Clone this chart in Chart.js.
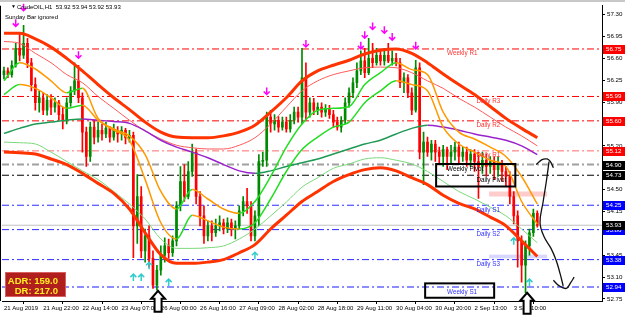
<!DOCTYPE html>
<html>
<head>
<meta charset="utf-8">
<script src="https://cdn.jsdelivr.net/npm/chart.js@4.4.1/dist/chart.umd.min.js"></script>
<style>
  html, body { margin: 0; padding: 0; background: #fff; }
</style>
</head>
<body>
<canvas id="chart" width="625" height="315"></canvas>
<script>
// ---- data ----

const tickBars = [0, 10, 20, 30, 40, 50, 60, 70, 80, 90, 100, 110, 120, 130];
const tickLabels = ['21 Aug 2019', '21 Aug 22:00', '22 Aug 14:00', '23 Aug 07:00', '26 Aug 00:00',
    '26 Aug 16:00', '27 Aug 09:00', '28 Aug 02:00', '28 Aug 18:00', '29 Aug 11:00',
    '30 Aug 04:00', '30 Aug 20:00', '2 Sep 13:00', '3 Sep 10:00'];
const priceTicks = [52.75, 53.10, 53.45, 53.80, 54.15, 54.50, 54.85, 55.20, 55.55, 55.90,
    56.25, 56.60, 56.95, 57.30];

// candles (open of each bar = close of the bar before)
const firstOpen = 56.34;
const closes = [
    56.40, 56.34, 56.49, 56.76, 56.65, 56.84, 56.53, 56.18, 55.89, 55.97,
    55.77, 55.93, 55.82, 55.89, 55.70, 55.61, 55.89, 56.08, 56.24, 55.97,
    55.42, 55.03, 55.50, 55.34, 55.45, 55.39, 55.48, 55.34, 55.45, 55.39,
    55.45, 55.33, 55.37, 53.92, 54.39, 53.52, 53.76, 53.40, 52.97, 53.21,
    53.45, 53.60, 53.49, 53.68, 54.24, 54.63, 54.39, 54.79, 55.10, 54.39,
    54.08, 53.76, 53.92, 53.81, 53.92, 53.97, 53.87, 53.97, 53.87, 53.92,
    54.16, 54.31, 54.24, 53.76, 54.08, 54.95, 54.97, 55.66, 55.55, 55.61,
    55.50, 55.58, 55.47, 55.61, 55.74, 55.66, 56.29, 55.74, 55.89, 55.77,
    55.82, 55.74, 55.80, 55.70, 55.58, 55.50, 55.61, 55.89, 56.05, 56.21,
    56.40, 56.56, 56.37, 56.60, 56.53, 56.65, 56.56, 56.65, 56.56, 56.60,
    56.53, 56.21, 56.29, 56.05, 55.77, 56.45, 55.10, 55.26, 55.10, 55.23,
    55.10, 55.03, 55.14, 55.03, 55.10, 55.18, 55.03, 55.10, 54.97, 55.07,
    54.95, 54.87, 54.97, 54.87, 54.95, 54.82, 54.91, 54.79, 54.71, 54.39,
    54.08, 53.68, 53.29, 53.60, 53.81, 54.12, 53.93
];
const highs = [
    56.46, 56.45, 56.56, 56.84, 57.00, 57.13, 56.92, 56.60, 56.29, 56.08,
    56.05, 56.02, 56.02, 55.97, 55.93, 55.82, 55.97, 56.15, 56.53, 56.49,
    56.05, 55.50, 55.58, 55.61, 55.58, 55.55, 55.58, 55.51, 55.55, 55.51,
    55.51, 55.48, 55.45, 55.42, 54.74, 54.55, 53.87, 53.92, 53.52, 53.29,
    53.60, 53.73, 53.71, 53.76, 54.31, 54.87, 54.90, 54.95, 55.23, 55.15,
    54.47, 54.24, 54.00, 54.00, 54.03, 54.08, 54.03, 54.05, 54.03, 54.00,
    54.24, 54.39, 54.52, 54.31, 54.16, 55.06, 55.10, 55.74, 55.77, 55.70,
    55.67, 55.66, 55.66, 55.70, 55.82, 55.82, 56.76, 56.53, 55.97, 55.96,
    55.89, 55.89, 55.86, 55.85, 55.77, 55.66, 55.67, 55.97, 56.13, 56.29,
    56.53, 56.72, 56.76, 56.92, 56.84, 56.76, 56.72, 56.76, 56.84, 56.72,
    56.68, 56.60, 56.37, 56.34, 56.13, 56.57, 56.53, 55.42, 55.34, 55.29,
    55.29, 55.18, 55.21, 55.18, 55.21, 55.26, 55.26, 55.18, 55.18, 55.14,
    55.14, 55.10, 55.10, 55.07, 55.03, 55.03, 55.03, 54.97, 54.87, 54.79,
    54.47, 54.16, 53.76, 53.68, 53.87, 54.19, 54.16
];
const lows = [
    56.27, 56.29, 56.30, 56.46, 56.56, 56.60, 56.45, 56.08, 55.77, 55.74,
    55.70, 55.69, 55.70, 55.74, 55.61, 55.47, 55.55, 55.83, 56.02, 55.89,
    55.10, 54.87, 54.95, 55.23, 55.26, 55.29, 55.33, 55.26, 55.29, 55.26,
    55.29, 55.23, 55.26, 53.41, 53.64, 53.41, 53.34, 53.26, 52.92, 52.89,
    53.13, 53.34, 53.40, 53.43, 53.60, 54.16, 54.31, 54.35, 54.71, 54.27,
    53.92, 53.64, 53.68, 53.68, 53.75, 53.84, 53.79, 53.81, 53.76, 53.71,
    53.87, 54.08, 54.12, 53.68, 53.68, 53.92, 54.87, 54.87, 55.42, 55.45,
    55.42, 55.45, 55.42, 55.42, 55.55, 55.58, 55.55, 55.61, 55.66, 55.70,
    55.70, 55.66, 55.67, 55.64, 55.50, 55.45, 55.42, 55.55, 55.82, 55.97,
    56.13, 56.34, 56.29, 56.34, 56.45, 56.49, 56.49, 56.49, 56.53, 56.49,
    56.48, 56.13, 56.05, 55.97, 55.70, 55.74, 54.99, 54.58, 55.03, 54.97,
    54.95, 54.91, 54.87, 54.82, 54.91, 54.97, 54.91, 54.95, 54.87, 54.87,
    54.79, 54.36, 54.76, 54.71, 54.76, 54.66, 54.71, 54.63, 54.55, 54.27,
    53.95, 53.26, 53.02, 52.85, 53.45, 53.75, 53.90
];

// indicator lines, sampled every 4 bars
const lineBars = [0, 4, 8, 12, 16, 20, 24, 28, 32, 36, 40, 44, 48, 52, 56, 60, 64, 68,
    72, 76, 80, 84, 88, 92, 96, 100, 104, 108, 112, 116, 120, 124, 128, 132, 136];
const upperBand = [57.00, 57.00, 56.91, 56.78, 56.60, 56.40, 56.18, 55.97, 55.78, 55.58,
    55.42, 55.34, 55.33, 55.33, 55.36, 55.42, 55.53, 55.74, 55.97, 56.24, 56.40, 56.49,
    56.57, 56.67, 56.73, 56.75, 56.68, 56.53, 56.35, 56.18, 56.02, 55.83, 55.64, 55.48, 55.33];
const upperInner = [56.87, 56.84, 56.68, 56.53, 56.34, 56.21, 55.99, 55.80, 55.61, 55.44,
    55.31, 55.21, 55.17, 55.15, 55.15, 55.21, 55.33, 55.55, 55.82, 56.08, 56.24, 56.34,
    56.40, 56.45, 56.46, 56.45, 56.37, 56.24, 56.12, 55.96, 55.82, 55.66, 55.50, 55.36, 55.20];
const lowerBand = [55.10, 55.09, 55.07, 54.99, 54.90, 54.76, 54.60, 54.44, 54.19, 53.81,
    53.46, 53.32, 53.32, 53.34, 53.38, 53.49, 53.62, 53.87, 54.09, 54.31, 54.47, 54.63,
    54.74, 54.82, 54.85, 54.80, 54.69, 54.58, 54.41, 54.28, 54.19, 54.06, 53.92, 53.68, 53.43];
const lowerInner = [55.26, 55.25, 55.23, 55.10, 54.95, 54.80, 54.66, 54.47, 54.27, 54.03,
    53.71, 53.56, 53.56, 53.57, 53.60, 53.71, 53.87, 54.08, 54.30, 54.54, 54.69, 54.84,
    54.91, 54.99, 55.01, 54.97, 54.91, 54.79, 54.63, 54.47, 54.35, 54.22, 54.08, 53.87, 53.65];
const slowMA = [55.40, 55.48, 55.55, 55.58, 55.61, 55.63, 55.61, 55.59, 55.56, 55.44,
    55.29, 55.18, 55.10, 55.01, 54.90, 54.80, 54.76, 54.80, 54.87, 54.93, 54.99, 55.07,
    55.15, 55.23, 55.29, 55.39, 55.48, 55.53, 55.50, 55.45, 55.39, 55.34, 55.29, 55.20, 55.06];
const fastMA1 = [56.24, 56.53, 56.43, 56.24, 56.05, 56.12, 55.64, 55.47, 55.36, 55.06,
    54.47, 54.19, 54.50, 54.35, 54.19, 54.12, 54.31, 54.71, 55.18, 55.55, 55.77, 55.80,
    55.83, 56.18, 56.37, 56.53, 56.42, 56.34, 55.74, 55.42, 55.31, 55.18, 55.03, 54.71, 54.27];
const fastMA2 = [56.02, 56.18, 56.12, 55.97, 55.80, 55.85, 55.61, 55.45, 55.29, 54.66,
    53.97, 53.71, 54.09, 54.00, 53.90, 53.87, 53.97, 54.35, 54.79, 55.14, 55.34, 55.50,
    55.58, 55.89, 56.08, 56.24, 56.18, 56.08, 55.50, 55.23, 55.10, 54.97, 54.87, 54.31, 53.95];

// pivot levels
const levelNames = ['Weekly R1', 'Daily R3', 'Daily R2', 'Daily R1', 'Weekly Pivot',
    'Daily Pivot', 'Daily S1', 'Daily S2', 'Daily S3', 'Weekly S1'];
const levelValues = [56.75, 55.99, 55.60, 55.12, 54.90, 54.73, 54.25, 53.86, 53.38, 52.94];
const bidPrice = 53.93;

// fractals
const fractalDownBars = [3, 5, 19, 67, 77, 91, 92, 94, 97, 99, 105];
const fractalDownPrices = [57.16, 57.41, 56.65, 56.07, 56.83, 56.80, 56.97, 57.11, 57.05, 56.94, 56.80];
const fractalUpBars = [33, 35, 37, 42, 64, 130, 134];
const fractalUpPrices = [53.10, 53.10, 53.29, 53.02, 53.45, 53.68, 53.02];

// hand drawn marks on the picture (bar, price)
const sketchHookBars = [135.7, 137.2, 138.5, 139.3, 140.1];
const sketchHookPrices = [54.90, 54.98, 54.99, 54.95, 54.85];
const sketchDownBars = [139.0, 138.3, 137.5, 136.7, 137.7, 139.5, 140.8, 141.8, 142.6];
const sketchDownPrices = [54.95, 54.63, 54.31, 53.97, 53.75, 53.56, 53.37, 53.16, 52.96];
const sketchTickBars = [140.1, 141.6, 143.4, 144.6, 145.4];
const sketchTickPrices = [53.05, 52.96, 52.92, 53.02, 53.10];
const hollowArrowBars = [39.3, 133.4];
const hollowArrowPrices = [52.88, 52.85];

const adrValue = '159.0';
const drValue = '217.0';

// ---- styles ----
const FONT = '"Liberation Sans", Arial, sans-serif';
const BULL = '#008a00';
const BEAR = '#ff0000';
const RISE = '#22dd22';
const FALL = '#ff9900';
const levelLine = [
    {c: '#ff0000', w: 1, t: '#ff3333', b: '#ff0000'},
    {c: '#ff0000', w: 1, t: '#ff3333', b: '#ff0000'},
    {c: '#ff0000', w: 1, t: '#ff3333', b: '#ff0000'},
    {c: '#ff6a6a', w: 1, t: '#ff3333', b: '#ff0000'},
    {c: '#a0a0a0', w: 2, t: '#000000', b: '#000000'},
    {c: '#000000', w: 1, t: '#000000', b: '#000000'},
    {c: '#2a2aff', w: 1, t: '#3333ff', b: '#0000ff'},
    {c: '#2a2aff', w: 1, t: '#3333ff', b: '#0000ff'},
    {c: '#2a2aff', w: 1, t: '#3333ff', b: '#0000ff'},
    {c: '#8c8cff', w: 2, t: '#3333ff', b: '#0000ff'}
];
const labelBar = {weekly: 113, daily: 120.5};

const opens = closes.map((c, i) => i ? closes[i - 1] : firstOpen);
const isUp = i => closes[i] >= opens[i];

function pts(xs, ys) {
    return xs.map((x, i) => ({x: x, y: ys[i]}));
}

function lineSet(values, color, width, order) {
    return {
        type: 'line', data: pts(lineBars, values), borderColor: color, borderWidth: width,
        pointRadius: 0, cubicInterpolationMode: 'monotone', order: order
    };
}

function trendSet(values, width) {
    let ds = lineSet(values, RISE, width, 2);
    ds.segment = {borderColor: s => s.p1.parsed.y >= s.p0.parsed.y ? RISE : FALL};
    return ds;
}

let datasets = [];

levelValues.forEach((v, i) => {
    datasets.push({
        type: 'line', data: [{x: -0.5, y: v}, {x: 152.5, y: v}],
        borderColor: levelLine[i].c, borderWidth: levelLine[i].w, borderDash: [7, 3, 2, 3],
        pointRadius: 0, order: 30
    });
});
datasets.push({
    type: 'line', data: [{x: -0.5, y: bidPrice}, {x: 152.5, y: bidPrice}],
    borderColor: '#c0c0c0', borderWidth: 1, pointRadius: 0, order: 29
});

datasets.push({
    type: 'bar', data: closes.map((c, i) => ({x: i, y: [lows[i], highs[i]]})),
    backgroundColor: ctx => isUp(ctx.dataIndex) ? BULL : BEAR,
    barThickness: 1, grouped: false, order: 12
});
datasets.push({
    type: 'bar', data: closes.map((c, i) => ({x: i, y: [opens[i], c]})),
    backgroundColor: ctx => isUp(ctx.dataIndex) ? BULL : BEAR,
    barThickness: 2, grouped: false, order: 11
});

datasets.push(lineSet(lowerInner, '#7ad87a', 1, 5));
datasets.push(lineSet(upperInner, '#ff5a5a', 1, 5));
let sma = lineSet(slowMA, '#1f9a55', 1.5, 4);
sma.segment = {borderColor: s => s.p1.parsed.y >= s.p0.parsed.y ? '#1f9a55' : '#9a22cc'};
datasets.push(sma);
datasets.push(trendSet(fastMA2, 1.5));
datasets.push(trendSet(fastMA1, 1.5));
datasets.push(lineSet(upperBand, '#ff3300', 3, 1));
datasets.push(lineSet(lowerBand, '#ff3300', 3, 1));

[[sketchHookBars, sketchHookPrices], [sketchDownBars, sketchDownPrices], [sketchTickBars, sketchTickPrices]]
    .forEach(p => {
        datasets.push({
            type: 'line', data: pts(p[0], p[1]), borderColor: '#111', borderWidth: 1.3,
            pointRadius: 0, tension: 0.4, order: 0, clip: false
        });
    });

function px(chart, bar) { return chart.scales.x.getPixelForValue(bar); }
function py(chart, price) { return chart.scales.y.getPixelForValue(price); }

function fractal(ctx, x, y, down, color) {
    ctx.strokeStyle = color;
    ctx.lineWidth = 1.5;
    ctx.beginPath();
    let d = down ? 1 : -1;
    ctx.moveTo(x, y - 4 * d);
    ctx.lineTo(x, y + 3 * d);
    ctx.moveTo(x - 3, y);
    ctx.lineTo(x, y + 3 * d);
    ctx.lineTo(x + 3, y);
    ctx.stroke();
}

function hollowArrow(ctx, x, yt) {
    ctx.beginPath();
    ctx.moveTo(x, yt);
    ctx.lineTo(x + 7, yt + 8);
    ctx.lineTo(x + 3.5, yt + 8);
    ctx.lineTo(x + 3.5, yt + 21);
    ctx.lineTo(x - 3.5, yt + 21);
    ctx.lineTo(x - 3.5, yt + 8);
    ctx.lineTo(x - 7, yt + 8);
    ctx.closePath();
    ctx.fillStyle = '#fff';
    ctx.fill();
    ctx.lineWidth = 2;
    ctx.strokeStyle = '#000';
    ctx.stroke();
}

function rect(chart, x0, x1, p0, p1) {
    let a = px(chart, x0), b = px(chart, x1), c = py(chart, p0), d = py(chart, p1);
    return [a, c, b - a, d - c];
}

const mt4Plugin = {
    id: 'mt4',
    beforeDatasetsDraw(chart) {
        const ctx = chart.ctx;
        ctx.save();
        ctx.fillStyle = 'rgba(255, 170, 170, 0.6)';
        ctx.fillRect(...rect(chart, 123.7, 138.5, 54.47, 54.39));
        ctx.fillStyle = 'rgba(190, 190, 255, 0.6)';
        ctx.fillRect(...rect(chart, 123.7, 138.5, 53.46, 53.40));
        ctx.restore();
    },
    afterDatasetsDraw(chart) {
        const ctx = chart.ctx;
        ctx.save();
        fractalDownBars.forEach((b, i) => fractal(ctx, px(chart, b), py(chart, fractalDownPrices[i]), true, '#ff00ff'));
        fractalUpBars.forEach((b, i) => fractal(ctx, px(chart, b), py(chart, fractalUpPrices[i]), false, '#33cccc'));

        // level captions just under each line
        ctx.font = '6.3px ' + FONT;
        ctx.textBaseline = 'top';
        ctx.textAlign = 'left';
        levelNames.forEach((n, i) => {
            let bar = n.indexOf('Weekly') === 0 ? labelBar.weekly : labelBar.daily;
            ctx.fillStyle = levelLine[i].t;
            ctx.fillText(n, px(chart, bar), py(chart, levelValues[i]) + 1.5);
        });

        ctx.lineWidth = 2;
        ctx.strokeStyle = '#000';
        ctx.strokeRect(...rect(chart, 110.2, 130.4, 54.91, 54.55));
        ctx.strokeRect(...rect(chart, 107.4, 125, 53.00, 52.77));
        ctx.restore();
    },
    afterDraw(chart) {
        const ctx = chart.ctx;
        const area = chart.chartArea;
        ctx.save();
        ctx.fillStyle = '#c8c8c8';
        ctx.fillRect(0, 0, 625, 2);
        ctx.fillStyle = '#000';
        ctx.fillRect(0, area.top, 1, area.bottom - area.top);

        // price boxes on the right scale
        ctx.font = '6.2px ' + FONT;
        ctx.textBaseline = 'middle';
        const boxes = levelValues.map((v, i) => [v, levelLine[i].b]).concat([[bidPrice, '#000000']]);
        boxes.forEach(b => {
            let y = Math.round(py(chart, b[0]));
            ctx.fillStyle = b[1];
            ctx.fillRect(area.right + 1, y - 4, 22, 9);
            ctx.fillStyle = '#fff';
            ctx.fillText(b[0].toFixed(2), area.right + 4, y + 0.5);
        });

        // header
        ctx.fillStyle = '#000';
        ctx.textBaseline = 'alphabetic';
        ctx.font = '5px ' + FONT;
        ctx.fillText('\u25BC', 11, 8);
        ctx.font = '6px ' + FONT;
        ctx.fillText('CrudeOIL,H1  53.92 53.94 53.92 53.93', 17, 9);
        ctx.fillText('Sunday Bar ignored', 5, 19);

        // ADR panel
        ctx.fillStyle = '#b01e1e';
        ctx.fillRect(5, 272, 61, 25);
        ctx.strokeStyle = '#d86060';
        ctx.lineWidth = 1;
        ctx.strokeRect(5.5, 272.5, 60, 24);
        ctx.fillStyle = '#ffee22';
        ctx.font = 'bold 9.5px "Liberation Sans", Arial, sans-serif';
        ctx.textAlign = 'right';
        ctx.fillText('ADR: ' + adrValue, 58, 284);
        ctx.fillText('DR: ' + drValue, 58, 294);

        hollowArrowBars.forEach((b, i) => hollowArrow(ctx, px(chart, b), py(chart, hollowArrowPrices[i])));
        ctx.restore();
    }
};

new Chart(document.getElementById('chart'), {
    type: 'bar',
    data: {datasets: datasets},
    options: {
        responsive: false,
        animation: false,
        events: [],
        layout: {padding: {left: 2, top: 2, right: 0, bottom: 0}},
        plugins: {legend: {display: false}, tooltip: {enabled: false}},
        scales: {
            x: {
                type: 'linear', min: -0.5, max: 152.5, offset: false,
                grid: {drawOnChartArea: false, tickLength: 3, color: '#000'},
                border: {color: '#000'},
                ticks: {
                    font: {family: FONT, size: 6}, color: '#000', align: 'start',
                    padding: 1, maxRotation: 0, autoSkip: false,
                    callback: v => tickLabels[tickBars.indexOf(v)]
                },
                afterBuildTicks: s => { s.ticks = tickBars.map(v => ({value: v})); },
                afterFit: s => { s.height = 14; }
            },
            y: {
                type: 'linear', position: 'right', min: 52.718, max: 57.442,
                grid: {drawOnChartArea: false, tickLength: 3, color: '#000'},
                border: {color: '#000'},
                ticks: {
                    font: {family: FONT, size: 6.2}, color: '#000', padding: 2,
                    callback: v => v.toFixed(2)
                },
                afterBuildTicks: s => { s.ticks = priceTicks.map(v => ({value: v})); },
                afterFit: s => { s.width = 23; }
            }
        }
    },
    plugins: [mt4Plugin]
});
</script>
</body>
</html>
